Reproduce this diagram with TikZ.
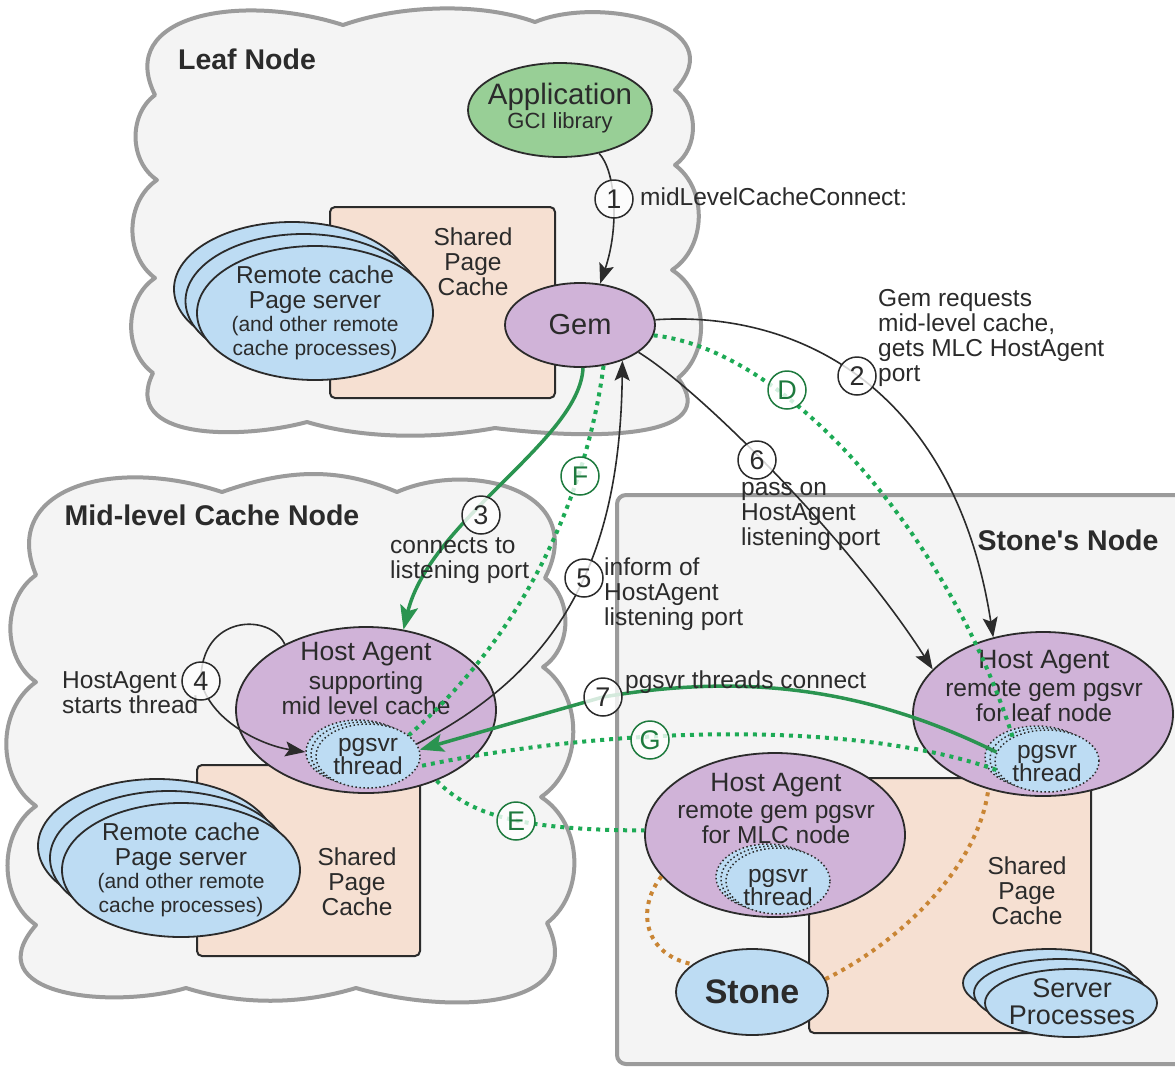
\documentclass[tikz,border=0pt]{standalone}
\usepackage{fontspec}
\setmainfont{Liberation Sans}
\font\aposfont="Liberation Sans/B" at 28.5pt
\usetikzlibrary{arrows.meta,shapes.geometric}
\definecolor{cloudfill}{HTML}{F4F4F4}
\definecolor{cloudline}{HTML}{9B9B9B}
\definecolor{peach}{HTML}{F6E0D2}
\definecolor{lblue}{HTML}{BDDCF3}
\definecolor{lilac}{HTML}{D0B3D8}
\definecolor{appgreen}{HTML}{98CF96}
\definecolor{solgreen}{HTML}{2A9450}
\definecolor{dotgreen}{HTML}{1DAA55}
\definecolor{lblgreen}{HTML}{1E7A3E}
\definecolor{orng}{HTML}{C98534}
\definecolor{ink}{HTML}{2B2B2B}
\begin{document}
\begin{tikzpicture}[x=1pt,y=-1pt,
  cloudshape/.style={draw=cloudline,fill=cloudfill,line width=4pt,line join=round},
  stonebox/.style={draw=cloudline,fill=cloudfill,line width=4pt,rounded corners=9pt},
  spcbox/.style={rectangle,draw=ink,fill=peach,line width=2pt,rounded corners=5pt,inner sep=0pt},
  ellbase/.style={ellipse,draw=ink,line width=1.8pt,inner sep=0pt},
  remote/.style={ellbase,fill=lblue,minimum width=236pt,minimum height=134pt},
  hanode/.style={ellbase,fill=lilac,minimum width=260pt,minimum height=164pt},
  pgs/.style={ellipse,draw=ink,fill=lblue,line width=1.5pt,dash pattern=on 1.5pt off 2.5pt,minimum width=104pt,minimum height=64pt,inner sep=0pt},
  txt/.style={text=ink,align=center,inner sep=0pt,font=\fontsize{24.5}{25}\selectfont},
  hatxt/.style={txt,font=\fontsize{26.5}{27}\selectfont},
  pgtxt/.style={txt,font=\fontsize{24.5}{23}\selectfont},
  lbl/.style={txt,align=left,anchor=west},
  ttl/.style={text=ink,inner sep=0pt,font=\bfseries\fontsize{28.5}{30}\selectfont},
  numc/.style={circle,draw=ink,line width=1.5pt,fill=white,fill opacity=0.8,text opacity=1,minimum size=38pt,inner sep=0pt,text=ink,font=\fontsize{27}{27}\selectfont},
  letc/.style={numc,draw=lblgreen,text=lblgreen},
  blk/.style={draw=ink,line width=1.6pt,-{Stealth[length=20pt,width=15pt,inset=4pt]}},
  gsolid/.style={draw=solgreen,line width=3.5pt,-{Stealth[length=24pt,width=18pt,inset=5pt]}},
  gdot/.style={draw=dotgreen,line width=4pt,dash pattern=on 4pt off 5pt},
  odot/.style={draw=orng,line width=4pt,dash pattern=on 4pt off 5pt}
]
\useasboundingbox (0,0) rectangle (1175,1066);
\fill[white] (0,0) rectangle (1175,1066);
\clip (0,0) rectangle (1175,1066);

% ---------- containers ----------
\draw[cloudshape] (155,95)
  .. controls (115,15) and (240,-8) .. (343,25)
  .. controls (400,5) and (480,2) .. (535,22)
  .. controls (600,-5) and (735,25) .. (675,90)
  to[bend left=55] (675,165) to[bend left=55] (672,270) to[bend left=55] (678,378)
  .. controls (725,440) and (590,440) .. (495,428)
  .. controls (430,440) and (360,438) .. (307,422)
  .. controls (240,440) and (120,440) .. (153,373)
  to[bend left=55] (155,278) to[bend left=55] (157,180) to[bend left=55] (155,95) -- cycle;

\draw[cloudshape] (36,575)
  .. controls (0,490) and (110,455) .. (222,492)
  .. controls (290,468) and (340,468) .. (397,492)
  .. controls (470,460) and (590,490) .. (545,578)
  to[bend left=55] (543,667) to[bend left=55] (541,797) to[bend left=55] (547,923)
  .. controls (590,1010) and (450,1015) .. (356,988)
  .. controls (300,1005) and (240,1005) .. (186,988)
  .. controls (110,1010) and (-25,995) .. (36,925)
  to[bend left=55] (36,806) to[bend left=55] (36,682) to[bend left=55] (36,575) -- cycle;

\draw[stonebox] (617,495) rectangle (1200,1064);

% ---------- leaf node ----------
\node[ttl] (leaftitle) at (247,59) {Leaf Node};
\node[spcbox,minimum width=225pt,minimum height=191pt] (leafspc) at (442.5,302.5) {};
\node[txt] (leafspct) at (473,262) {Shared\\Page\\Cache};
\node[remote] (lr3) at (292,289) {};
\node[remote] (lr2) at (303.5,301) {};
\node[remote] (lr1) at (315,313) {};
\node[txt] (lrt1) at (315,290) {Remote cache\\Page server};
\node[txt,font=\fontsize{21}{23.5}\selectfont] (lrt2) at (315,338) {(and other remote\\cache processes)};
\node[ellbase,fill=appgreen,minimum width=184pt,minimum height=94pt] (app) at (560,110) {};
\node[txt,font=\fontsize{29.5}{30}\selectfont] (appt) at (560,97) {Application};
\node[txt,font=\fontsize{22}{24}\selectfont] (appsub) at (560,123) {GCI library};
\node[ellbase,fill=lilac,minimum width=150pt,minimum height=84pt,text=ink,font=\fontsize{29}{30}\selectfont] (gem) at (580,325) {Gem};

% ---------- mid-level node ----------
\node[ttl] (midtitle) at (212,515) {Mid-level Cache Node};
\node[spcbox,minimum width=223pt,minimum height=191pt] (midspc) at (308.5,860.5) {};
\node[txt] (midspct) at (357,882) {Shared\\Page\\Cache};
\node[remote,minimum width=238pt] (mr3) at (157,846) {};
\node[remote,minimum width=238pt] (mr2) at (169,858) {};
\node[remote,minimum width=238pt] (mr1) at (181,870) {};
\node[txt] (mrt1) at (181,846.5) {Remote cache\\Page server};
\node[txt,font=\fontsize{21}{23.5}\selectfont] (mrt2) at (181,895) {(and other remote\\cache processes)};
\node[hanode,minimum height=166pt] (mlcha) at (366,710) {};
\node[hatxt] (mlchat1) at (366,654) {Host Agent};
\node[txt] (mlchat2) at (366,693.5) {supporting\\mid level cache};
\node[pgs] (mlcpgc) at (358,752) {};
\node[pgs] (mlcpgb) at (363,754) {};
\node[pgs] (mlcpg) at (368,756) {};
\node[pgtxt] (mlcpgt) at (368,757) {pgsvr\\thread};
\node[lbl] (startlbl) at (62,693) {HostAgent\\starts thread};

% ---------- stone's node ----------
\node[ttl] (stonetitle) at (1068,540) {Stone{\aposfont\char"27}s Node};
\node[spcbox,minimum width=282pt,minimum height=255pt] (stonespc) at (950,905.5) {};
\node[txt] (stonespct) at (1027,891) {Shared\\Page\\Cache};
\node[hanode] (leafha) at (1043,714) {};
\node[hatxt] (leafhat1) at (1044,662) {Host Agent};
\node[txt] (leafhat2) at (1044,701) {remote gem pgsvr\\for leaf node};
\node[pgs,minimum height=62pt] (leafpgc) at (1037,757) {};
\node[pgs,minimum height=62pt] (leafpgb) at (1042,759) {};
\node[pgs,minimum height=62pt] (leafpg) at (1047,761) {};
\node[pgtxt] (leafpgt) at (1047,764) {pgsvr\\thread};
\node[hanode] (mlcha2) at (775,835) {};
\node[hatxt] (mlcha2t1) at (776,785) {Host Agent};
\node[txt] (mlcha2t2) at (776,823.5) {remote gem pgsvr\\for MLC node};
\node[pgs,minimum height=66pt] (mlcpg2c) at (768,877) {};
\node[pgs,minimum height=66pt] (mlcpg2b) at (773,879) {};
\node[pgs,minimum height=66pt] (mlcpg2) at (778,881) {};
\node[pgtxt] (mlcpg2t) at (778,888) {pgsvr\\thread};
\node[ellbase,fill=lblue,minimum width=152pt,minimum height=86pt,text=ink,font=\bfseries\fontsize{34}{36}\selectfont] (stone) at (752,992) {Stone};
\node[ellbase,fill=lblue,minimum width=172pt,minimum height=68pt] (sp3) at (1049,983) {};
\node[ellbase,fill=lblue,minimum width=172pt,minimum height=68pt] (sp2) at (1060,993) {};
\node[ellbase,fill=lblue,minimum width=172pt,minimum height=68pt] (sp1) at (1071,1003) {};
\node[txt,font=\fontsize{27}{27}\selectfont] (spt) at (1072,1002) {Server\\Processes};

% ---------- connectors ----------
\draw[odot] (mlcha2.200) .. controls (635,910) and (645,955) .. (stone.155);
\draw[odot] (stone.10) .. controls (895,945) and (978,870) .. (leafha.234);

\draw[blk] (app.-48) .. controls (615,170) and (620,225) .. (gem.64);
\draw[blk] (gem.4) .. controls (800,310) and (955,390) .. (leafha.123);
\draw[gdot] (gem.-8) .. controls (790,350) and (950,540) .. (leafpg.145);
\draw[blk] (gem.-25) .. controls (700,390) and (850,540) .. (leafha.158);
\draw[gsolid] (gem.-86) .. controls (580,440) and (430,520) .. (mlcha.65);
\draw[gdot] (gem.-60) .. controls (590,470) and (540,620) .. (mlcpg.27);
\draw[blk] (mlcpg.14) .. controls (560,670) and (620,560) .. (gem.-40);
\draw[blk] (mlcha.141) .. controls (270,612) and (200,615) .. (201,681)
  .. controls (210,720) and (260,745) .. (mlcpgc.west);
\draw[gsolid] (leafpg.170) .. controls (870,690) and (750,672) .. (603,697)
  .. controls (540,715) and (470,735) .. (mlcpg.7);
\draw[gdot] (leafpg.190) .. controls (850,718) and (600,728) .. (mlcpg.-12);
\draw[gdot] (mlcha.-45) .. controls (470,815) and (520,830) .. (mlcha2.178);

% ---------- step markers and labels ----------
\node[numc] (c1) at (614,199) {1};
\node[lbl] (l1) at (640,197) {midLevelCacheConnect:};
\node[numc] (c2) at (857,376) {2};
\node[lbl] (l2) at (878,338) {Gem requests\\mid-level cache,\\gets MLC HostAgent\\port};
\node[numc] (c3) at (481,515) {3};
\node[lbl] (l3) at (390,560.5) {connects to\\listening port};
\node[numc] (c4) at (201,681) {4};
\node[numc] (c5) at (584,578) {5};
\node[lbl] (l5) at (604,594) {inform of\\HostAgent\\listening port};
\node[numc] (c6) at (757,460) {6};
\node[lbl] (l6) at (741,516) {pass on\\HostAgent\\listening port};
\node[numc] (c7) at (603,697) {7};
\node[lbl] (l7) at (625,682) {pgsvr threads connect};
\node[letc] (cD) at (787,390) {D};
\node[letc] (cE) at (516,821) {E};
\node[letc] (cF) at (580,476) {F};
\node[letc] (cG) at (650,740) {G};
\end{tikzpicture}
\end{document}
